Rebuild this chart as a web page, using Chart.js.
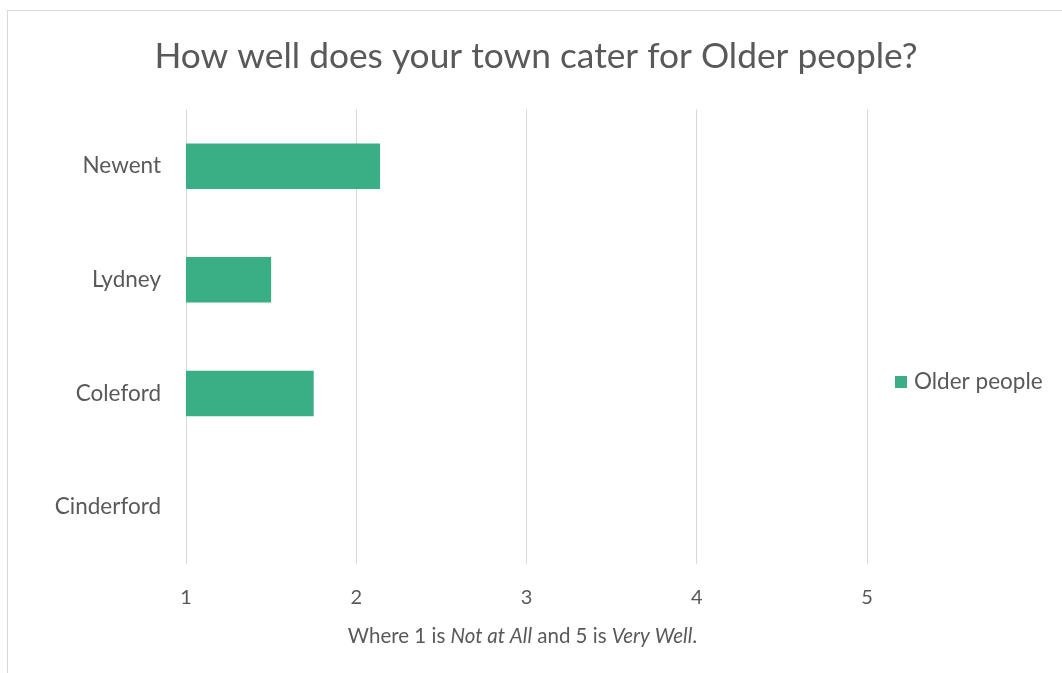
<!DOCTYPE html>
<html>
<head>
<meta charset="utf-8">
<script src="https://cdn.jsdelivr.net/npm/chart.js@4.4.1/dist/chart.umd.min.js"></script>
<style>
  html, body { margin: 0; padding: 0; background: #fff; }
  #frame { position: absolute; left: 7px; top: 10px; width: 1055px; height: 663px;
           border-left: 1px solid #d9d9d9; border-top: 1px solid #d9d9d9; box-sizing: border-box; }
  #wrap { position: absolute; left: 1px; top: 1px; width: 1054px; height: 662px; }
</style>
</head>
<body>
<div id="frame"><div id="wrap"><canvas id="c"></canvas></div></div>
<script>
const categories = ["Newent", "Lydney", "Coleford", "Cinderford"];
const olderPeople = [2.14, 1.5, 1.75, null];
const seriesName = "Older people";
const tickValues = [1, 2, 3, 4, 5];
const chartTitle = "How well does your town cater for Older people?";
const axisTitleParts = [
  { text: "Where 1 is ", italic: false },
  { text: "Not at All", italic: true },
  { text: " and 5 is ", italic: false },
  { text: "Very Well", italic: true },
  { text: ".", italic: false }
];

const TEXT = "#595959";
const FONT = "Lato, 'Open Sans', sans-serif";

const extras = {
  id: "extras",
  afterDraw(chart) {
    const ctx = chart.ctx;
    const area = chart.chartArea;
    ctx.save();
    // axis title with mixed italics
    const size = 20.5;
    let total = 0;
    axisTitleParts.forEach(p => {
      ctx.font = (p.italic ? "italic " : "") + size + "px " + FONT;
      p.w = ctx.measureText(p.text).width;
      total += p.w;
    });
    let x = (area.left + area.right) / 2 - total / 2 - 4;
    const y = 624;
    ctx.fillStyle = TEXT;
    ctx.textBaseline = "middle";
    ctx.textAlign = "left";
    axisTitleParts.forEach(p => {
      ctx.font = (p.italic ? "italic " : "") + size + "px " + FONT;
      ctx.fillText(p.text, x, y);
      x += p.w;
    });
    // legend
    const ds = chart.data.datasets[0];
    const lx = 886, ly = 370;
    ctx.fillStyle = ds.backgroundColor;
    ctx.fillRect(lx, ly - 6, 12, 12);
    ctx.fillStyle = TEXT;
    ctx.font = "22.5px " + FONT;
    ctx.fillText(ds.label, lx + 19, ly);
    ctx.restore();
  }
};

new Chart(document.getElementById("c"), {
  type: "bar",
  data: {
    labels: categories,
    datasets: [{
      label: seriesName,
      data: olderPeople,
      backgroundColor: "#3aae84",
      categoryPercentage: 0.8,
      barPercentage: 0.5
    }]
  },
  options: {
    indexAxis: "y",
    responsive: true,
    maintainAspectRatio: false,
    animation: false,
    layout: { padding: 0 },
    plugins: {
      legend: { display: false },
      tooltip: { enabled: false },
      title: {
        display: true,
        text: chartTitle,
        color: TEXT,
        font: { family: FONT, size: 35.3, weight: 400 },
        padding: { top: 23, bottom: 32 }
      }
    },
    scales: {
      x: {
        min: 1, max: 5,
        afterBuildTicks(scale) { scale.ticks = tickValues.map(v => ({ value: v })); },
        afterFit(scale) { scale.height = 110; },
        grid: { color: "#d9d9d9", lineWidth: 1, drawTicks: false },
        border: { display: false },
        ticks: { color: TEXT, font: { family: FONT, size: 20 }, padding: 22 }
      },
      y: {
        afterFit(scale) { scale.width = 177; },
        grid: { display: false, drawTicks: false },
        border: { display: false },
        ticks: { color: TEXT, font: { family: FONT, size: 22.5 }, padding: 25 }
      },
      legendSpace: {
        type: "category",
        axis: "y",
        position: "right",
        afterFit(scale) { scale.width = 196; },
        grid: { display: false, drawTicks: false },
        border: { display: false },
        ticks: { display: false }
      }
    }
  },
  plugins: [extras]
});
</script>
</body>
</html>
